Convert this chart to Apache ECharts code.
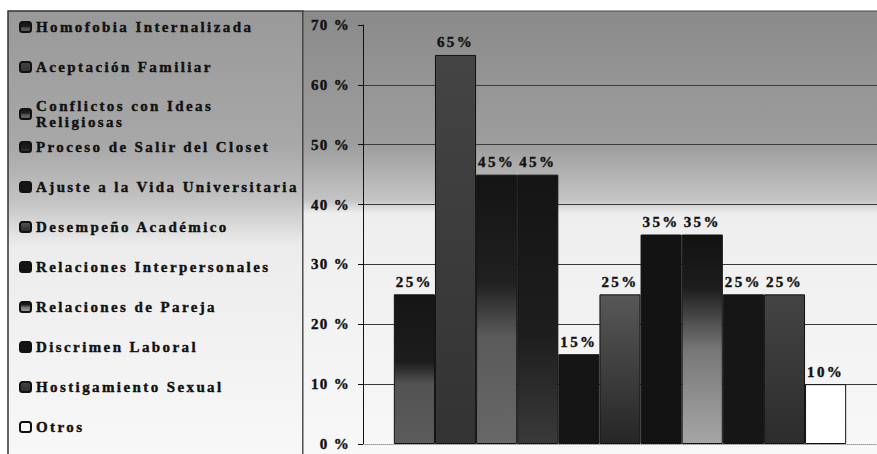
<!DOCTYPE html>
<html>
<head>
<meta charset="utf-8">
<script src="https://cdn.jsdelivr.net/npm/echarts@6/dist/echarts.min.js"></script>
<style>
  html, body { margin: 0; padding: 0; background: #fff; }
  #chart { width: 877px; height: 454px; }
  /* the scanned labels are heavy and widely letter-spaced */
  #chart svg text {
    font-family: 'Liberation Serif', serif !important;
    font-weight: 700 !important;
    letter-spacing: 2.4px;
    stroke: #111;
    stroke-width: 0.4px;
  }
  #chart svg text[text-anchor="end"] { letter-spacing: 1.3px; }
</style>
</head>
<body>
<div id="chart"></div>
<script>
'use strict';

// data
const arrNames = [
    'Homofobia Internalizada',
    'Aceptación Familiar',
    'Conflictos con Ideas Religiosas',
    'Proceso de Salir del Closet',
    'Ajuste a la Vida Universitaria',
    'Desempeño Académico',
    'Relaciones Interpersonales',
    'Relaciones de Pareja',
    'Discrimen Laboral',
    'Hostigamiento Sexual',
    'Otros'
];
const arrValues = [25, 65, 45, 45, 15, 25, 35, 35, 25, 25, 10];
const arrTicks = [0, 10, 20, 30, 40, 50, 60, 70];

const FONT = 'Liberation Serif';

const grad = (stops) => new echarts.graphic.LinearGradient(0, 0, 0, 1,
    stops.map(s => ({ offset: s[0], color: s[1] })));

// bar fills (grey scan look)
const arrFills = [
    grad([[0, '#161616'], [0.45, '#1c1c1c'], [0.6, '#535353'], [1, '#5c5c5c']]),
    grad([[0, '#444444'], [1, '#333333']]),
    grad([[0, '#141414'], [0.4, '#202020'], [0.6, '#5a5a5a'], [1, '#686868']]),
    grad([[0, '#141414'], [0.6, '#1e1e1e'], [1, '#3a3a3a']]),
    '#151515',
    grad([[0, '#575757'], [0.6, '#3a3a3a'], [1, '#262626']]),
    '#131313',
    grad([[0, '#121212'], [0.25, '#1c1c1c'], [0.55, '#777777'], [1, '#a6a6a6']]),
    '#161616',
    grad([[0, '#444444'], [1, '#2c2c2c']]),
    '#ffffff'
];

const echartsBar = echarts.init(document.getElementById('chart'), null, { renderer: 'svg' });

const arrSeries = arrNames.map((name, i) => ({
    name: name,
    type: 'bar',
    barGap: '0%',
    barCategoryGap: '12%',
    data: [arrValues[i]],
    itemStyle: {
        color: arrFills[i],
        borderColor: '#111',
        borderWidth: 1
    },
    label: {
        show: true,
        position: 'top',
        distance: 5,
        formatter: '{c}%',
        fontFamily: FONT,
        fontWeight: 'bold',
        fontSize: 15,
        color: '#111'
    },
    emphasis: { disabled: true }
}));

const legendText = {
    fontFamily: FONT,
    fontWeight: 'bold',
    fontSize: 15,
    color: '#111',
    lineHeight: 16
};
const legendBase = {
    orient: 'vertical',
    left: 19,
    padding: 0,
    itemGap: 0,
    itemWidth: 11,
    itemHeight: 10,
    icon: 'roundRect',
    selectedMode: false
};

// three legend blocks so the two-line entry keeps the 40px rhythm
const arrLegend = [
    Object.assign({}, legendBase, {
        top: 7,
        data: arrNames.slice(0, 2),
        textStyle: Object.assign({ padding: [12, 0, 12, 0] }, legendText)
    }),
    Object.assign({}, legendBase, {
        top: 98,
        data: arrNames.slice(2, 3),
        formatter: () => 'Conflictos con Ideas\nReligiosas',
        textStyle: Object.assign({}, legendText)
    }),
    Object.assign({}, legendBase, {
        top: 127,
        data: arrNames.slice(3),
        textStyle: Object.assign({ padding: [12, 0, 12, 0] }, legendText)
    })
];

const optionBar = {
    animation: false,
    graphic: {
        elements: [{
            type: 'rect',
            z: -10,
            shape: { x: 8, y: 11, width: 295, height: 450 },
            style: {
                fill: grad([[0, '#999999'], [0.3, '#a8a8a8'], [0.42, '#c2c2c2'], [0.52, '#ececec'], [1, '#f8f8f8']]),
                stroke: '#333',
                lineWidth: 1.5
            }
        }, {
            type: 'rect',
            z: -10,
            shape: { x: 303, y: 11, width: 580, height: 450 },
            style: {
                fill: grad([[0, '#8a8a8a'], [0.3, '#9e9e9e'], [0.42, '#c4c4c4'], [0.45, '#eeeeee'], [1, '#f8f8f8']]),
                stroke: '#444',
                lineWidth: 1
            }
        }]
    },
    legend: arrLegend,
    grid: {
        left: 363,
        right: -4,
        top: 25,
        bottom: 10,
        containLabel: false
    },
    xAxis: [{
        type: 'category',
        data: [''],
        axisLine: { show: true, lineStyle: { color: '#999', type: 'dotted', width: 1 } },
        axisTick: { show: false },
        axisLabel: { show: false }
    }],
    yAxis: [{
        type: 'value',
        min: arrTicks[0],
        max: arrTicks[arrTicks.length - 1],
        interval: 10,
        axisLine: { show: true, lineStyle: { color: '#111', width: 1 } },
        axisTick: { show: true, length: 5, lineStyle: { color: '#111' } },
        axisLabel: {
            margin: 13,
            formatter: '{value} %',
            fontFamily: FONT,
            fontWeight: 'bold',
            fontSize: 15,
            color: '#111'
        },
        splitLine: {
            show: true,
            lineStyle: {
                color: arrTicks.map((t, i) => (i === 0 || i === arrTicks.length - 1) ? 'rgba(0,0,0,0)' : '#3a3a3a'),
                width: 1
            }
        }
    }],
    series: arrSeries
};

echartsBar.setOption(optionBar);
</script>
</body>
</html>
